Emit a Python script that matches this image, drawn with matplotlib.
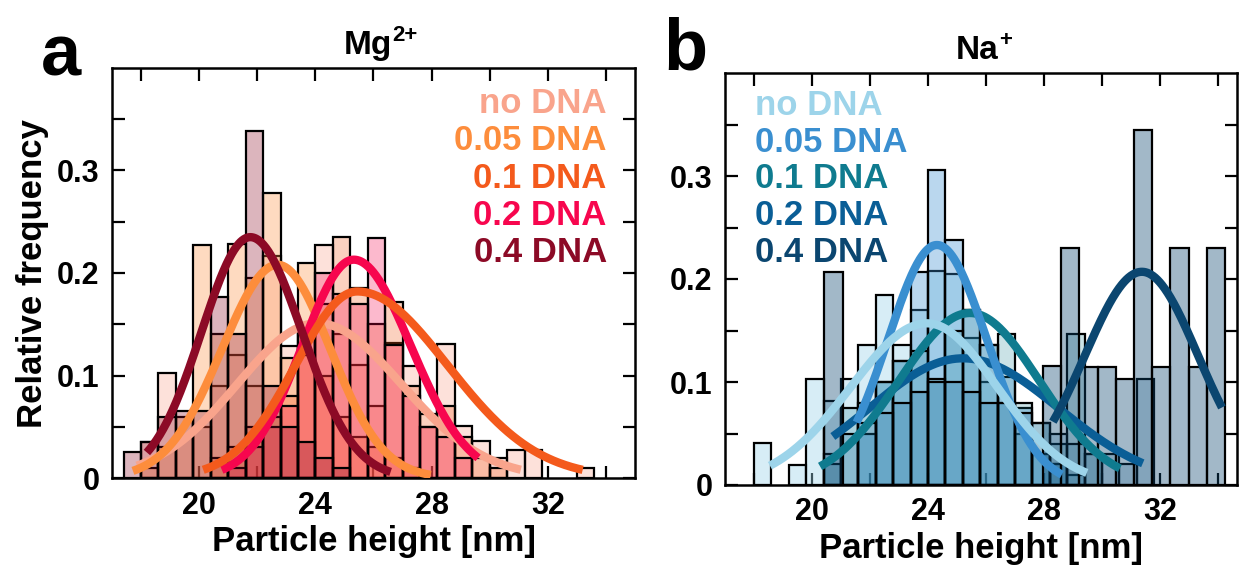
import numpy as np
import matplotlib
matplotlib.use("Agg")
import matplotlib.pyplot as plt
from matplotlib.colors import to_rgba
from matplotlib.ticker import MultipleLocator, FixedLocator, FuncFormatter

plt.rcParams['font.family'] = ['Liberation Sans', 'DejaVu Sans']
plt.rcParams['font.weight'] = 'bold'

labels = ["no DNA", "0.05 DNA", "0.1 DNA", "0.2 DNA", "0.4 DNA"]

### Mg2+ data
mg_colors = ["#F9A48C", "#FD8D3C", "#F45A1C", "#F7064E", "#8C0A26"]
mg_start = [17.4, 17.4, 20.4, 21.0, 17.4]
mg_width = [0.6, 0.6, 0.6, 0.6, 0.6]
mg_nodna = [0, .035, .102, .04, .05, .09, .12, .09, .217, .129, .15, .227, .14, .11,
            .07, .132, .109, .05, .131, .051, .036, .02, .027, .027, 0, 0, .01]
mg_005 = [0, .01, .03, .06, .227, .14, .228, .195, .278, .117, .21, .10, .06, .04,
          .03, .02, .01]
mg_01 = [.02, .03, .05, .06, .08, .12, .17, .235, .185, .15, .172, .09, .062, .07,
         .04, .02, .01]
mg_02 = [.01, .03, .05, .07, .15, .2, .18, .17, .234, .13, .08, .05, .04, .02]
mg_04 = [.025, .035, .06, .065, .065, .177, .14, .339, .09, .05, .035, .02, .01]
mg_hist = [mg_nodna, mg_005, mg_01, mg_02, mg_04]

# fitted curves: peak position, height, left/right width, x range
mg_mu = [24.07, 22.7, 25.44, 25.32, 21.76]
mg_amp = [0.151, 0.208, 0.182, 0.213, 0.235]
mg_sl = [2.76, 1.91, 2.12, 1.77, 1.68]
mg_sr = [2.89, 1.81, 3.1, 1.96, 1.78]
mg_x0 = [17.86, 17.72, 20.14, 20.78, 18.20]
mg_x1 = [31.07, 27.97, 33.2, 29.6, 26.59]

### Na+ data
na_colors = ["#9DD4EA", "#3A8FD0", "#0F7B8F", "#0A5E96", "#0B4670"]
na_start = [18.0, 21.6, 20.4, 20.4, 20.43]
na_width = [0.6, 0.6, 0.6, 0.6, 0.628]
na_nodna = [.041, 0, .019, .103, .082, .103, .136, .184, .136, .17, .208, .205, .143,
            .10, .08, .05, .03, .02, .01]
na_005 = [.05, .10, .12, .207, .306, .238, .17, .136, .105, .075, .03, .02]
na_01 = [.02, .075, .08, .1, .12, .13, .103, .15, .17, .136, .147, .08, .06, .04,
         .147, .03]
na_02 = [.03, .05, .06, .07, .08, .09, .1, .1, .09, .08, .08, .07, .06, .05, .04,
         .03, .03, .02, .103]
na_04 = [.207, 0, 0, 0, 0, 0, 0, 0, 0, 0, 0, 0, .116, .23, .115, .115,
         .103, .345, .115, .23, .115, .23]
na_hist = [na_nodna, na_005, na_01, na_02, na_04]

na_mu = [23.97, 24.31, 25.45, 25.21, 31.38]
na_amp = [0.157, 0.233, 0.167, 0.123, 0.207]
na_sl = [2.63, 1.69, 2.45, 3.24, 1.97]
na_sr = [2.42, 1.72, 2.39, 3.3, 1.94]
na_x0 = [18.55, 21.54, 20.28, 20.72, 28.31]
na_x1 = [29.48, 28.62, 30.62, 31.41, 34.14]


def curva(mu, a, sl, sr, x0, x1):
    x = np.linspace(x0, x1, 300)
    s = np.where(x < mu, sl, sr)
    return x, a * np.exp(-(x - mu)**2 / (2 * s**2))


def panel(ax, colors, start, width, hists, mu, amp, sl, sr, x0, x1, orden, xmax, alfas):
    for i in range(5):
        h = np.array(hists[i])
        left = start[i] + width[i] * np.arange(len(h))
        m = h > 0
        ax.bar(left[m], h[m], width=width[i], align="edge",
               facecolor=to_rgba(colors[i], alfas[i]), edgecolor="black", linewidth=1.6,
               zorder=2)
    for i in orden:
        x, y = curva(mu[i], amp[i], sl[i], sr[i], x0[i], x1[i])
        ax.plot(x, y, color=colors[i], lw=6, solid_capstyle="butt", zorder=3)

    ax.set_xlim(17, xmax)
    ax.set_ylim(0, 0.4)
    ax.xaxis.set_major_locator(FixedLocator([20, 24, 28, 32]))
    ax.xaxis.set_minor_locator(MultipleLocator(2))
    ax.yaxis.set_major_locator(FixedLocator([0, 0.1, 0.2, 0.3]))
    ax.yaxis.set_minor_locator(FixedLocator([0.05, 0.15, 0.25, 0.35]))
    ax.yaxis.set_major_formatter(FuncFormatter(lambda v, p: "0" if abs(v) < 1e-9 else f"{v:.1f}"))
    ax.tick_params(which="both", direction="in", top=True, right=True, length=9,
                   width=1.6, labelsize=22, pad=9)
    for s in ax.spines.values():
        s.set_linewidth(1.8)
    ax.set_xlabel("Particle height [nm]", fontsize=25, fontweight="bold", labelpad=3)


def titulo(ax, base, sup):
    ax.text(0.535, 1.035, base, transform=ax.transAxes, ha="right", va="baseline",
            fontsize=24, fontweight="bold")
    ax.annotate(sup, xy=(0.535, 1.035), xycoords="axes fraction", xytext=(0.5, 9),
                textcoords="offset points", ha="left", va="baseline",
                fontsize=16, fontweight="bold")


fig = plt.figure(figsize=(12.39, 5.65), dpi=100)

axa = fig.add_axes([112/1239, 87/565, 523/1239, 410/565])
panel(axa, mg_colors, mg_start, mg_width, mg_hist, mg_mu, mg_amp, mg_sl, mg_sr,
      mg_x0, mg_x1, [0, 1, 3, 2, 4], 35, [0.32, 0.32, 0.28, 0.28, 0.3])
axa.set_ylabel("Relative frequency", fontsize=25, fontweight="bold", labelpad=6)
titulo(axa, "Mg", "2+")
for i, t in enumerate(labels):
    axa.text(0.946, 0.890 - 0.091 * i, t, transform=axa.transAxes, ha="right",
             va="baseline", color=mg_colors[i], fontsize=25, fontweight="bold", zorder=5)

axb = fig.add_axes([725/1239, 80/565, 512/1239, 412/565])
panel(axb, na_colors, na_start, na_width, na_hist, na_mu, na_amp, na_sl, na_sr,
      na_x0, na_x1, [3, 2, 1, 0, 4], 34.66, [0.4, 0.35, 0.22, 0.2, 0.38])
titulo(axb, "Na", "+")
for i, t in enumerate(labels):
    axb.text(0.059, 0.898 - 0.089 * i, t, transform=axb.transAxes, ha="left",
             va="baseline", color=na_colors[i], fontsize=25, fontweight="bold", zorder=5)

fig.text(41/1239, 1 - 75/565, "a", fontsize=52, fontweight="bold", va="baseline")
fig.text(663/1239, 1 - 70/565, "b", fontsize=52, fontweight="bold", va="baseline")

fig.savefig("out.png", dpi=100)
